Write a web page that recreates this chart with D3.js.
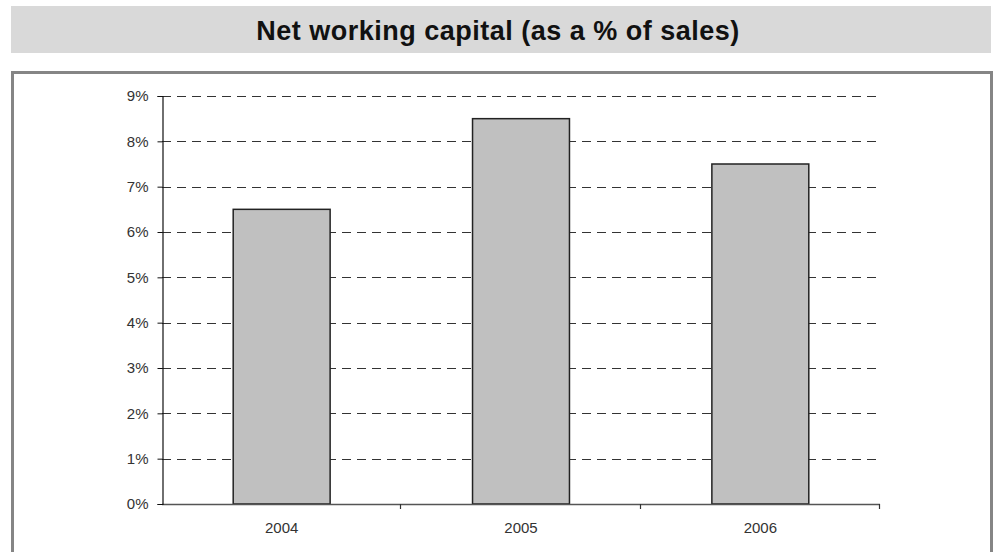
<!DOCTYPE html>
<html>
<head>
<meta charset="utf-8">
<script src="https://cdn.jsdelivr.net/npm/d3@7"></script>
<style>
  html, body { margin: 0; padding: 0; background: #fff; }
  svg { display: block; }
  text { font-family: "Liberation Sans", Arial, Helvetica, sans-serif; }
</style>
</head>
<body>
<svg id="chart" width="994" height="552"></svg>
<script>
// Net working capital as a share of sales, by year
const years = ["2004", "2005", "2006"];
const nwcPct = [6.5, 8.5, 7.5];
const yTicks = [0, 1, 2, 3, 4, 5, 6, 7, 8, 9];
const title = "Net working capital (as a % of sales)";

const svg = d3.select("#chart");

// title band
svg.append("rect")
  .attr("x", 11).attr("y", 6).attr("width", 980).attr("height", 47)
  .attr("fill", "#d9d9d9");
svg.append("text")
  .attr("x", 498).attr("y", 40)
  .attr("text-anchor", "middle")
  .attr("font-size", 27).attr("font-weight", "bold")
  .attr("letter-spacing", 0.5)
  .attr("fill", "#111")
  .text(title);

// chart frame
svg.append("rect")
  .attr("x", 12.5).attr("y", 72.5).attr("width", 979).attr("height", 490)
  .attr("fill", "#fff").attr("stroke", "#858585").attr("stroke-width", 3);

const plot = { left: 162, right: 880, top: 96, bottom: 504 };

const x = d3.scaleBand()
  .domain(years)
  .range([plot.left, plot.right])
  .paddingInner(0.595)
  .paddingOuter(0.2975);

const y = d3.scaleLinear()
  .domain([0, 9])
  .range([plot.bottom, plot.top]);

// dashed gridlines
svg.append("g")
  .selectAll("line")
  .data(yTicks.filter(d => d > 0))
  .join("line")
  .attr("x1", plot.left).attr("x2", plot.right)
  .attr("y1", d => Math.round(y(d)) + 0.5).attr("y2", d => Math.round(y(d)) + 0.5)
  .attr("stroke", "#333").attr("stroke-width", 1.1)
  .attr("stroke-dasharray", "9,6");

// bars
svg.append("g")
  .selectAll("rect")
  .data(years.map((yr, i) => ({ yr, v: nwcPct[i] })))
  .join("rect")
  .attr("x", d => x(d.yr))
  .attr("y", d => y(d.v))
  .attr("width", x.bandwidth())
  .attr("height", d => y(0) - y(d.v))
  .attr("fill", "#c0c0c0")
  .attr("stroke", "#222")
  .attr("stroke-width", 1.5);

// x axis: ticks at category boundaries
const xAxisG = svg.append("g");
xAxisG.append("line")
  .attr("x1", plot.left).attr("x2", plot.right)
  .attr("y1", plot.bottom + 0.5).attr("y2", plot.bottom + 0.5)
  .attr("stroke", "#555").attr("stroke-width", 1.5);
const boundaries = d3.range(years.length + 1).map(i => plot.left + i * (plot.right - plot.left) / years.length);
xAxisG.selectAll("line.tick")
  .data(boundaries.slice(1))
  .join("line")
  .attr("class", "tick")
  .attr("x1", d => Math.round(d) - 0.5).attr("x2", d => Math.round(d) - 0.5)
  .attr("y1", plot.bottom).attr("y2", plot.bottom + 5)
  .attr("stroke", "#333").attr("stroke-width", 1.2);
xAxisG.selectAll("text")
  .data(years)
  .join("text")
  .attr("x", d => x(d) + x.bandwidth() / 2)
  .attr("y", plot.bottom + 29)
  .attr("text-anchor", "middle")
  .attr("font-size", 15)
  .attr("fill", "#333")
  .text(d => d);

// y axis
const yAxis = d3.axisLeft(y)
  .tickValues(yTicks)
  .tickSize(5)
  .tickPadding(9)
  .tickFormat(d => d + "%");
const yAxisG = svg.append("g")
  .attr("transform", `translate(${plot.left + 0.5},0)`)
  .call(yAxis);
yAxisG.select(".domain").attr("stroke", "#111").attr("stroke-width", 1.2);
yAxisG.selectAll(".tick line").attr("stroke", "#111");
yAxisG.selectAll(".tick text")
  .attr("font-size", 15)
  .attr("fill", "#333")
  .attr("font-family", "Liberation Sans, Arial, sans-serif");
</script>
</body>
</html>
